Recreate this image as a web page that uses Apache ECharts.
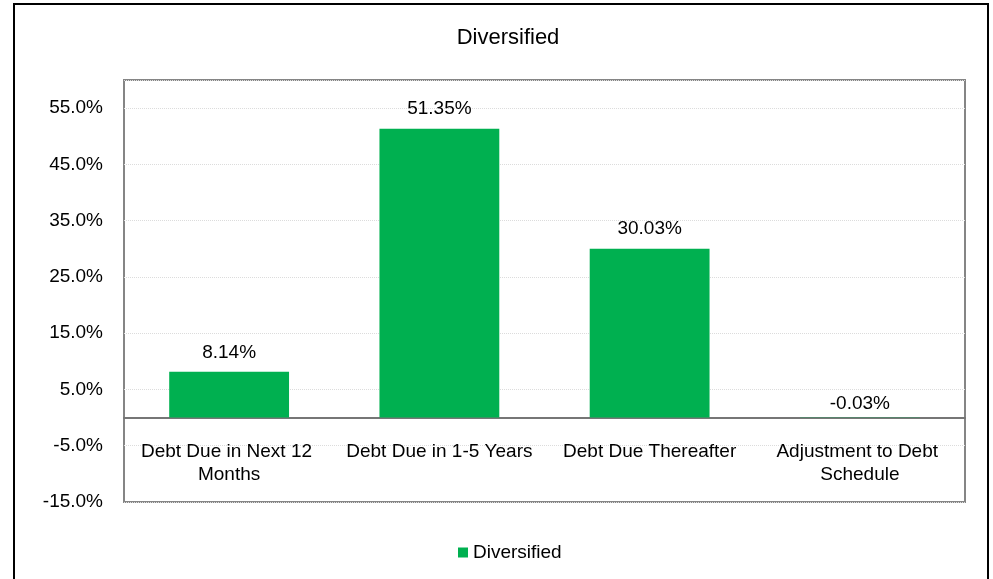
<!DOCTYPE html>
<html>
<head>
<meta charset="utf-8">
<script src="https://cdn.jsdelivr.net/npm/echarts@6/dist/echarts.min.js"></script>
<style>
  html, body { margin: 0; padding: 0; background: #fff; }
  #wrap { position: relative; width: 993px; height: 579px; overflow: hidden; }
  #chart { position: absolute; left: 0; top: 0; width: 993px; height: 579px; }
  #frame { position: absolute; left: 13px; top: 3px; width: 976px; height: 640px;
           border: 2px solid #000; pointer-events: none; box-sizing: border-box; }
</style>
</head>
<body>
<div id="wrap">
  <div id="chart"></div>
  <div id="frame"></div>
</div>
<script>
const chartTitle = 'Diversified';
const seriesName = 'Diversified';
const categories = ['Debt Due in Next 12 Months', 'Debt Due in 1-5 Years', 'Debt Due Thereafter', 'Adjustment to Debt Schedule'];
const values = [8.14, 51.35, 30.03, -0.03];
const yMin = -15, yMax = 60, yStep = 10;

const FONT = '"Liberation Sans", Arial, sans-serif';
const chart = echarts.init(document.getElementById('chart'), null, { renderer: 'canvas' });
chart.setOption({
  animation: false,
  backgroundColor: '#fff',
  title: {
    text: chartTitle,
    left: 503, top: 22, textAlign: 'center',
    textStyle: { fontFamily: FONT, fontSize: 22, fontWeight: 'normal', color: '#000' }
  },
  legend: {
    data: [seriesName],
    left: 453, top: 538,
    icon: 'rect', itemWidth: 10, itemHeight: 10, itemGap: 5,
    textStyle: { fontFamily: FONT, fontSize: 19, color: '#000' }
  },
  grid: {
    left: 124, right: 28, top: 80, bottom: 77,
    show: true, borderColor: '#858585', borderWidth: 2, containLabel: false
  },
  xAxis: {
    type: 'category',
    data: categories,
    axisLine: { onZero: false, lineStyle: { color: '#767676', width: 2 } },
    axisTick: { show: false },
    axisLabel: {
      interval: 0, margin: 23, width: 205, overflow: 'break', lineHeight: 23,
      fontFamily: FONT, fontSize: 19, color: '#000'
    }
  },
  yAxis: {
    type: 'value',
    min: yMin, max: yMax, interval: yStep,
    axisLine: { show: false },
    axisTick: { show: false },
    splitLine: { lineStyle: { color: '#dcdcdc', type: 'dotted', width: 1 } },
    axisLabel: {
      showMaxLabel: false, margin: 21,
      fontFamily: FONT, fontSize: 19, color: '#000',
      formatter: v => v.toFixed(1) + '%'
    }
  },
  series: [{
    name: seriesName,
    type: 'bar',
    data: values.map(v => v < 0 ? { value: v, label: { distance: 4 } } : v),
    barWidth: '57%',
    itemStyle: { color: '#00B050' },
    label: {
      show: true, position: 'top', distance: 10,
      fontFamily: FONT, fontSize: 19, color: '#000',
      formatter: p => p.value.toFixed(2) + '%'
    }
  }]
});
// Move the category axis (line + labels) up to the zero value of the y scale
const zeroY = chart.convertToPixel({ yAxisIndex: 0 }, 0);
const bottomY = chart.convertToPixel({ yAxisIndex: 0 }, yMin);
chart.setOption({ xAxis: { offset: -(bottomY - zeroY) } });
</script>
</body>
</html>
